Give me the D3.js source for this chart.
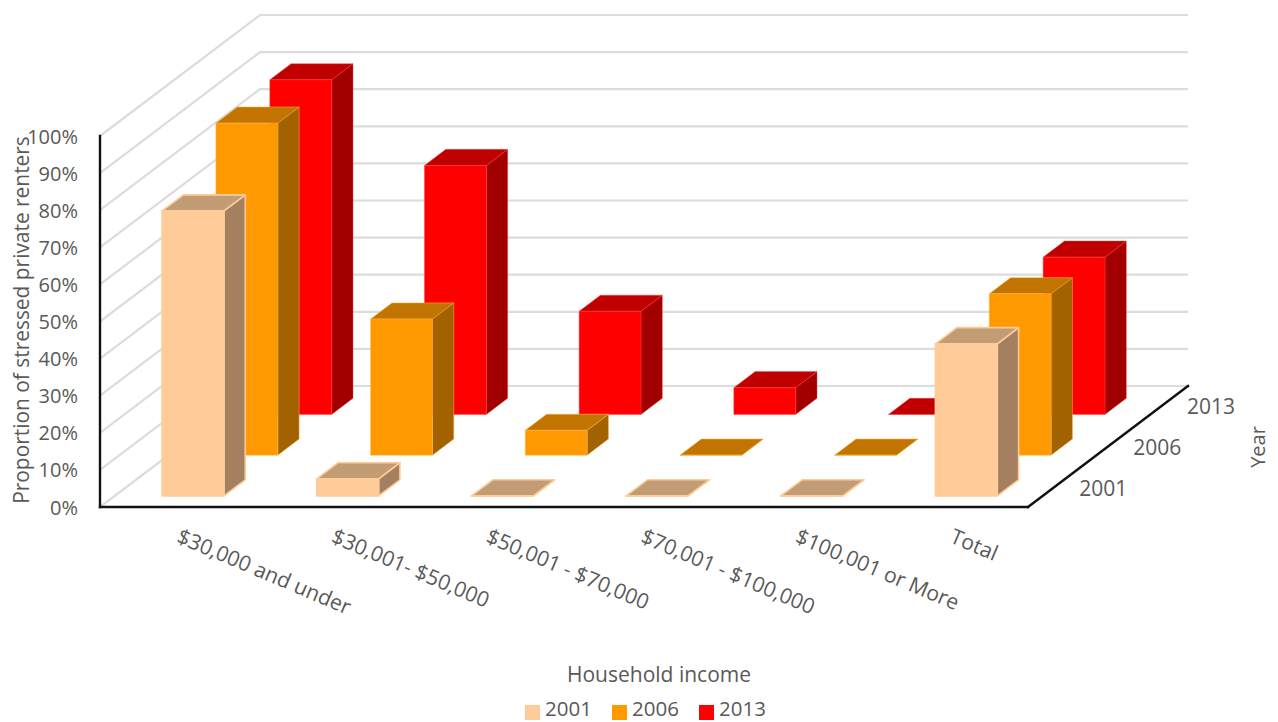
<!DOCTYPE html>
<html>
<head>
<meta charset="utf-8">
<script src="https://cdnjs.cloudflare.com/ajax/libs/d3/7.8.5/d3.min.js"></script>
<style>
  html, body { margin: 0; background: #fff; }
  svg { display: block; }
  text { font-family: "Open Sans", sans-serif; fill: #595959; }
</style>
</head>
<body>
<svg></svg>
<script>
const categories = ["$30,000 and under", "$30,001- $50,000", "$50,001 - $70,000", "$70,001 - $100,000", "$100,001 or More", "Total"];
const years = ["2001", "2006", "2013"];
const values2001 = [76.8, 4.6, 0, 0, 0, 41];
const values2006 = [89.5, 36.7, 6.7, 0, 0, 43.5];
const values2013 = [90.2, 67.1, 27.8, 7.2, 0, 42.4];
const yTicks = [0, 10, 20, 30, 40, 50, 60, 70, 80, 90, 100];

const seriesValues = { "2001": values2001, "2006": values2006, "2013": values2013 };
const colors = {
  "2001": { front: "#ffcc99", top: "#c29c74", side: "#a58060", edge: "#ffcc99", edgeWidth: 1.6, edgeOpacity: 1 },
  "2006": { front: "#ff9900", top: "#c27400", side: "#a36200", edge: "#ffb347", edgeWidth: 1, edgeOpacity: 0.5 },
  "2013": { front: "#ff0000", top: "#c00000", side: "#a20000", edge: "#ff4040", edgeWidth: 1, edgeOpacity: 0.4 }
};

const svg = d3.select("svg")
  .attr("width", 1278)
  .attr("height", 722);

// floor corner and how far the depth axis runs on screen
const originX = 100, originY = 507;
const depthX = 160, depthY = 121;
const floorWidth = 928;

const x = d3.scaleBand().domain(categories).range([1, floorWidth + 1]).paddingInner(0.6).paddingOuter(0.3);
const z = d3.scaleBand().domain(years).range([-0.01, 1]).paddingInner(0.604).paddingOuter(0.302);
const y = d3.scaleLinear().domain([0, 100]).range([0, 371]);

// oblique projection: px along the front edge, d along the depth (0..1), v in percent
function project(px, d, v) {
  return [originX + px + d * depthX, originY - d * depthY - y(v)];
}
const poly = pts => pts.map(p => p.join(",")).join(" ");

// wall gridlines: up the left wall, then along the back wall
svg.append("g").selectAll("polyline")
  .data(yTicks)
  .enter()
  .append("polyline")
  .attr("points", d => poly([project(0, 0, d), project(0, 1, d), project(floorWidth, 1, d)]))
  .attr("fill", "none")
  .attr("stroke", "#dcdcdc")
  .attr("stroke-width", 2.2);

// bars, back row first so the nearer rows cover it
const bars = svg.append("g");
years.slice().reverse().forEach(year => {
  const c = colors[year];
  const z0 = z(year), z1 = z(year) + z.bandwidth();
  categories.forEach((cat, i) => {
    const v = seriesValues[year][i];
    const x0 = x(cat), x1 = x(cat) + x.bandwidth();
    const g = bars.append("g")
      .attr("stroke", c.edge)
      .attr("stroke-width", c.edgeWidth)
      .attr("stroke-opacity", c.edgeOpacity)
      .attr("stroke-linejoin", "round");
    g.append("polygon")
      .attr("points", poly([project(x1, z0, 0), project(x1, z1, 0), project(x1, z1, v), project(x1, z0, v)]))
      .attr("fill", c.side);
    g.append("polygon")
      .attr("points", poly([project(x0, z0, v), project(x1, z0, v), project(x1, z1, v), project(x0, z1, v)]))
      .attr("fill", c.top);
    g.append("polygon")
      .attr("points", poly([project(x0, z0, 0), project(x1, z0, 0), project(x1, z0, v), project(x0, z0, v)]))
      .attr("fill", c.front);
  });
});

// axis lines
const axisLines = [
  [project(0, 0, 100), project(0, 0, 0)],
  [project(0, 0, 0), project(floorWidth, 0, 0)],
  [project(floorWidth, 0, 0), project(floorWidth, 1, 0)]
];
svg.append("g").selectAll("line")
  .data(axisLines)
  .enter()
  .append("line")
  .attr("x1", d => d[0][0])
  .attr("y1", d => d[0][1])
  .attr("x2", d => d[1][0])
  .attr("y2", d => d[1][1])
  .attr("stroke", "#111")
  .attr("stroke-width", 2.4)
  .attr("stroke-linecap", "square");

// percent labels
svg.append("g").selectAll("text")
  .data(yTicks)
  .enter()
  .append("text")
  .attr("x", 78)
  .attr("y", d => project(0, 0, d)[1] + 7.5)
  .attr("text-anchor", "end")
  .style("font-size", "20px")
  .text(d => d + "%");

// slanted income labels
svg.append("g").selectAll("text")
  .data(categories)
  .enter()
  .append("text")
  .attr("transform", d => `translate(${originX + x(d) + 28},${542}) rotate(23)`)
  .style("font-size", "21.2px")
  .text(d => d);

// year labels beside the depth axis
svg.append("g").selectAll("text")
  .data(years)
  .enter()
  .append("text")
  .attr("x", d => project(floorWidth, z(d) + z.bandwidth() / 2, 0)[0] + 26)
  .attr("y", d => project(floorWidth, z(d) + z.bandwidth() / 2, 0)[1] + 8)
  .style("font-size", "21px")
  .text(d => d);

// axis titles
svg.append("text")
  .attr("transform", "translate(28.5,320) rotate(-90)")
  .attr("text-anchor", "middle")
  .style("font-size", "20.9px")
  .text("Proportion of stressed private renters");

svg.append("text")
  .attr("transform", "translate(1265,447) rotate(-90)")
  .attr("text-anchor", "middle")
  .style("font-size", "20px")
  .text("Year");

svg.append("text")
  .attr("x", 659)
  .attr("y", 682)
  .attr("text-anchor", "middle")
  .style("font-size", "21px")
  .text("Household income");

// legend
const legend = svg.append("g").selectAll("g")
  .data(years)
  .enter()
  .append("g")
  .attr("transform", (d, i) => `translate(${525 + i * 87},0)`);
legend.append("rect")
  .attr("y", 705)
  .attr("width", 15)
  .attr("height", 15)
  .attr("fill", d => colors[d].front);
legend.append("text")
  .attr("x", 20)
  .attr("y", 716)
  .style("font-size", "20.5px")
  .text(d => d);
</script>
</body>
</html>
